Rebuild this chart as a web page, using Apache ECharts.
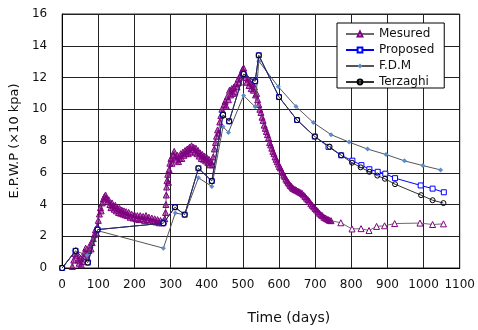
<!DOCTYPE html>
<html>
<head>
<meta charset="utf-8">
<title>E.P.W.P</title>
<script src="https://cdn.jsdelivr.net/npm/echarts@6/dist/echarts.min.js"></script>
<style>
  html, body { margin: 0; padding: 0; background: #fff; }
  #chart { width: 478px; height: 330px; }
</style>
</head>
<body>
<div id="chart"></div>
<script>
// x tick values (days) and y tick values (x10 kpa)
const xTicks = [0, 100, 200, 300, 400, 500, 600, 700, 800, 900, 1000, 1100]
const yTicks = [0, 2, 4, 6, 8, 10, 12, 14, 16]

const measured = [
  [28, 0.1], [32, 0.5], [35, 0.9], [38, 1.1], [41, 0.8], [44, 0.5], [47, 0.3], [50, 0.6],
  [53, 0.2], [56, 0.4], [59, 0.7], [62, 1.0], [65, 1.25], [68, 0.9], [71, 0.6], [74, 1.1],
  [77, 1.45], [80, 1.2], [83, 1.6], [86, 1.85], [89, 2.1], [92, 2.4], [95, 2.2],
  [97, 2.6], [100, 3.0], [103, 3.4], [106, 3.8], [108, 3.6], [111, 4.1], [114, 4.35], [117, 4.5],
  [120, 4.6], [123, 4.4], [126, 4.2], [129, 4.3], [132, 4.0], [135, 3.8], [138, 4.1], [141, 3.9],
  [144, 3.7], [147, 3.95], [150, 3.6], [153, 3.8], [156, 3.5], [159, 3.75], [162, 3.45], [165, 3.65],
  [168, 3.4], [171, 3.6], [174, 3.35], [177, 3.55], [180, 3.3], [184, 3.5], [188, 3.2], [192, 3.4],
  [196, 3.15], [200, 3.35], [204, 3.1], [208, 3.3], [212, 3.05], [216, 3.3], [220, 3.1], [224, 3.25],
  [228, 3.0], [232, 3.3], [236, 3.05], [240, 3.2], [244, 2.95], [248, 3.15], [252, 2.95], [256, 3.1],
  [260, 2.9], [264, 3.05], [268, 2.85], [272, 3.0], [276, 2.85], [280, 2.95], [284, 3.1],
  [286, 3.5], [287, 4.0], [288, 4.6], [289, 5.1], [290, 5.5], [292, 5.9], [294, 5.4], [296, 6.2],
  [298, 6.6], [301, 6.9], [304, 6.6], [307, 7.1], [310, 7.35], [313, 7.0], [316, 6.8], [319, 7.1],
  [322, 6.7], [325, 6.9], [328, 7.2], [331, 6.9], [334, 7.3], [337, 7.1], [340, 7.4], [343, 7.2],
  [346, 7.5], [349, 7.2], [352, 7.6], [355, 7.3], [358, 7.7], [361, 7.45], [364, 7.6], [367, 7.3],
  [370, 7.55], [373, 7.2], [376, 7.4], [379, 7.05], [382, 7.25], [385, 6.9], [388, 7.15], [391, 6.85],
  [394, 7.05], [397, 6.75], [400, 6.95], [403, 6.65], [406, 6.85], [409, 6.5], [412, 6.7], [415, 6.5],
  [418, 7.0], [421, 7.5], [424, 7.9], [427, 8.3], [430, 8.7], [433, 8.5], [436, 9.2], [439, 9.6],
  [442, 10.0], [445, 9.7], [448, 10.3], [451, 10.5], [454, 10.2], [457, 10.8], [460, 10.6], [463, 11.2],
  [466, 10.9], [469, 11.3], [472, 11.0], [475, 11.4], [478, 11.1], [481, 11.6], [484, 11.4], [487, 11.9],
  [490, 11.7], [493, 12.1], [496, 12.3], [499, 12.5], [502, 12.6], [505, 12.3],
  [508, 12.0], [511, 11.7], [514, 11.9], [517, 11.5], [520, 11.7], [523, 11.3], [526, 11.6], [529, 11.2],
  [532, 11.4], [535, 10.9], [538, 11.0], [541, 10.6], [544, 10.3], [547, 10.0], [550, 9.8],
  [553, 9.5], [556, 9.3], [559, 9.0], [562, 8.8], [565, 8.6], [568, 8.4], [571, 8.2], [574, 7.9],
  [577, 7.75], [580, 7.55], [583, 7.35], [586, 7.2], [589, 7.0], [592, 6.85], [595, 6.7], [598, 6.55],
  [601, 6.4], [604, 6.3], [607, 6.1], [610, 6.0], [613, 5.85], [616, 5.75], [619, 5.6], [622, 5.5],
  [625, 5.4], [628, 5.3], [631, 5.2], [634, 5.15], [637, 5.05], [640, 5.0], [644, 4.95], [648, 4.9],
  [652, 4.85], [656, 4.8], [660, 4.75], [664, 4.7], [668, 4.6], [672, 4.5], [676, 4.4], [680, 4.3],
  [684, 4.2], [688, 4.05], [692, 3.95], [696, 3.85], [700, 3.75], [704, 3.65], [708, 3.55], [712, 3.45],
  [716, 3.35], [720, 3.3], [724, 3.2], [728, 3.15], [732, 3.1], [736, 3.05], [740, 3.0], [744, 2.98],
  [771, 2.85], [802, 2.46], [827, 2.48], [849, 2.36], [870, 2.62], [892, 2.66], [920, 2.8],
  [990, 2.83], [1025, 2.74], [1055, 2.78]
]

const proposed = [
  [0, 0], [37, 1.08], [71, 0.34], [98, 2.42], [280, 2.82], [312, 3.83], [339, 3.36],
  [377, 6.28], [414, 5.48], [445, 9.65], [462, 9.24], [502, 12.22], [534, 11.76], [544, 13.4],
  [600, 10.77], [650, 9.32], [699, 8.28], [737, 7.63], [772, 7.1], [803, 6.76], [828, 6.48],
  [850, 6.22], [873, 6.06], [894, 5.94], [921, 5.66], [992, 5.2], [1025, 5.0], [1056, 4.77]
]

const fdm = [
  [0, 0], [37, 1.08], [69, 0.8], [97, 2.36], [280, 1.25], [313, 3.46], [339, 3.36],
  [377, 5.68], [414, 5.14], [445, 8.9], [460, 8.54], [502, 10.86], [534, 10.15], [544, 13.03],
  [598, 11.42], [647, 10.17], [695, 9.16], [744, 8.4], [794, 7.93], [845, 7.49], [896, 7.15],
  [947, 6.75], [998, 6.45], [1047, 6.18]
]

const terzaghi = [
  [0, 0], [37, 1.08], [71, 0.34], [98, 2.42], [280, 2.82], [312, 3.83], [339, 3.36],
  [377, 6.28], [414, 5.48], [445, 9.65], [462, 9.24], [502, 12.22], [534, 11.76], [544, 13.4],
  [600, 10.77], [650, 9.32], [699, 8.28], [740, 7.64], [772, 7.1], [802, 6.63], [826, 6.34],
  [850, 6.06], [872, 5.82], [893, 5.62], [921, 5.28], [993, 4.59], [1025, 4.27], [1055, 4.09]
]

const font = 'DejaVu Sans'
const purple = '#800080'
const myChart = echarts.init(document.getElementById('chart'))

// dense readings look solid in the original, the later sparse ones are hollow
const measuredData = measured.map(p => p[0] < 750
  ? { value: p, itemStyle: { color: 'rgba(128,0,128,0.55)', borderColor: purple } }
  : { value: p, itemStyle: { color: '#fff', borderColor: purple } })

const option = {
  animation: false,
  textStyle: { fontFamily: font, color: '#111' },
  grid: {
    left: 56,
    right: 14,
    top: 14,
    bottom: 51,
    show: true,
    borderColor: '#2a2a2a',
    borderWidth: 1
  },
  legend: {
    orient: 'vertical',
    left: 337,
    top: 23,
    data: ['Mesured', 'Proposed', 'F.D.M', 'Terzaghi'],
    itemWidth: 28,
    itemHeight: 6,
    itemGap: 4,
    padding: [5, 10, 0, 8],
    backgroundColor: '#fff',
    borderColor: '#000',
    borderWidth: 1,
    borderRadius: 0,
    textStyle: { fontFamily: font, fontSize: 12, color: '#111' }
  },
  xAxis: {
    type: 'value',
    min: xTicks[0],
    max: xTicks[xTicks.length - 1],
    interval: 100,
    name: 'Time (days)',
    nameLocation: 'middle',
    nameGap: 43,
    nameTextStyle: { fontFamily: font, fontSize: 14, color: '#111', padding: [0, 0, 0, 56] },
    axisLine: { lineStyle: { color: '#000' } },
    axisTick: { show: false },
    axisLabel: { fontFamily: font, fontSize: 12, color: '#111', margin: 11, formatter: v => String(v) },
    splitLine: { show: true, lineStyle: { color: '#222', width: 1 } }
  },
  yAxis: {
    type: 'value',
    min: yTicks[0],
    max: yTicks[yTicks.length - 1],
    interval: 2,
    name: 'E.P.W.P (×10 kpa)',
    nameLocation: 'middle',
    nameGap: 24,
    nameTextStyle: { fontFamily: font, fontSize: 13, color: '#111' },
    axisLine: { show: true, lineStyle: { color: '#000' } },
    axisTick: { show: false },
    axisLabel: { fontFamily: font, fontSize: 12, color: '#111', margin: 15 },
    splitLine: { show: true, lineStyle: { color: '#222', width: 1 } }
  },
  series: [
    {
      name: 'Mesured',
      type: 'line',
      data: measuredData,
      symbol: 'triangle',
      symbolSize: 6,
      showAllSymbol: true,
      itemStyle: { color: '#fff', borderColor: purple, borderWidth: 1 },
      lineStyle: { color: '#6a6a6a', width: 1 },
      z: 2
    },
    {
      name: 'F.D.M',
      type: 'line',
      data: fdm,
      symbol: 'diamond',
      symbolSize: 5,
      itemStyle: { color: '#5b8ccb' },
      lineStyle: { color: '#555', width: 1 },
      z: 3
    },
    {
      name: 'Proposed',
      type: 'line',
      data: proposed,
      symbol: 'rect',
      symbolSize: 5,
      itemStyle: { color: '#fff', borderColor: '#0000ff', borderWidth: 1 },
      lineStyle: { color: '#0000ff', width: 1 },
      z: 4
    },
    {
      name: 'Terzaghi',
      type: 'line',
      data: terzaghi,
      symbol: 'circle',
      symbolSize: 5,
      itemStyle: { color: 'rgba(255,255,255,0)', borderColor: '#000', borderWidth: 1 },
      lineStyle: { color: '#333', width: 1 },
      z: 5
    }
  ]
}

myChart.setOption(option)
</script>
</body>
</html>
